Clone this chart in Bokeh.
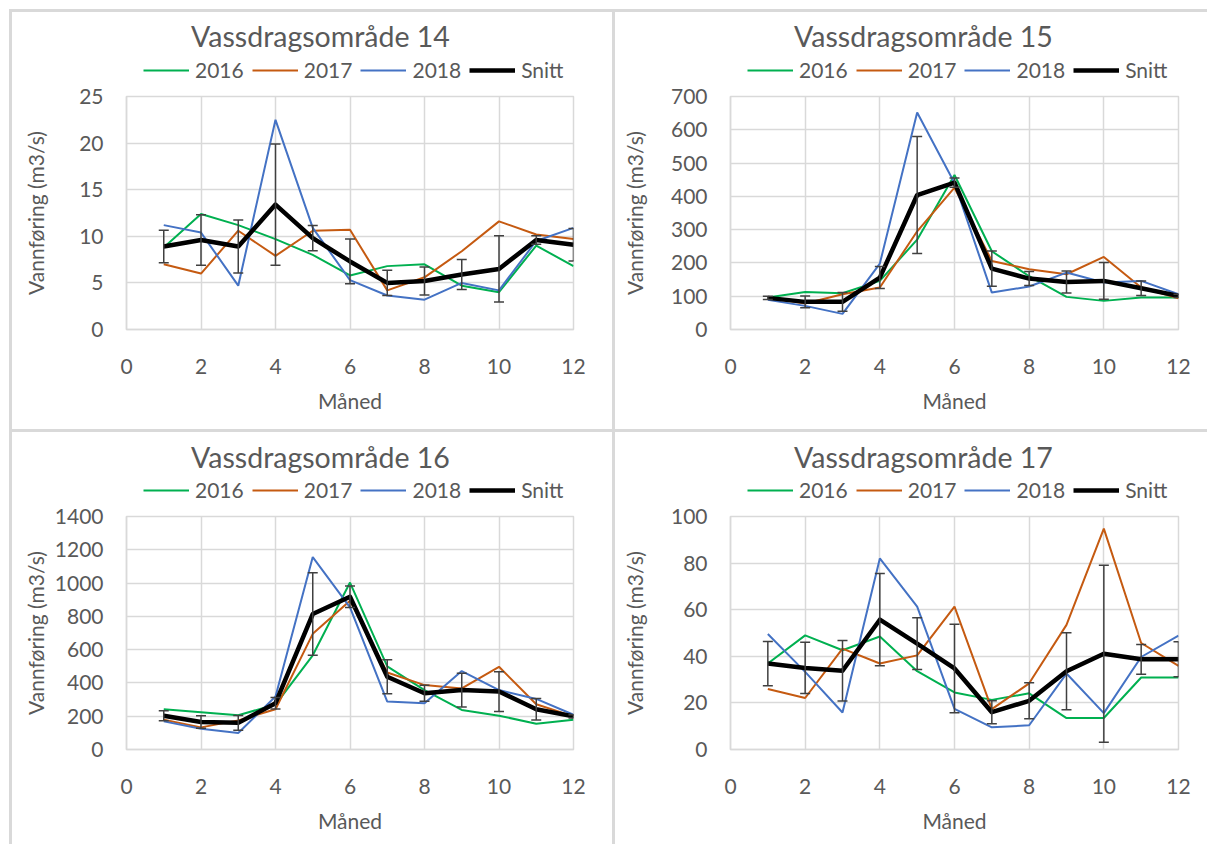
from bokeh.plotting import figure
from bokeh.models import (ColumnDataSource, Whisker, TeeHead, Legend, LegendItem,
                          FixedTicker, Range1d, Spacer, Label)
from bokeh.layouts import column, row
from bokeh.embed import file_html
from bokeh.resources import INLINE

# ---------------- data ----------------
months = [1, 2, 3, 4, 5, 6, 7, 8, 9, 10, 11, 12]
x_ticks = [0, 2, 4, 6, 8, 10, 12]
series_names = ["2016", "2017", "2018", "Snitt"]

titles = ["Vassdragsområde 14", "Vassdragsområde 15", "Vassdragsområde 16", "Vassdragsområde 17"]
y_ticks_14 = [0, 5, 10, 15, 20, 25]
y_ticks_15 = [0, 100, 200, 300, 400, 500, 600, 700]
y_ticks_16 = [0, 200, 400, 600, 800, 1000, 1200, 1400]
y_ticks_17 = [0, 20, 40, 60, 80, 100]

v14_2016 = [8.8, 12.4, 11.2, 9.7, 8.0, 5.8, 6.8, 7.0, 4.7, 4.0, 9.0, 6.8]
v14_2017 = [7.0, 6.0, 10.6, 7.9, 10.6, 10.7, 4.2, 5.6, 8.4, 11.6, 10.2, 9.7]
v14_2018 = [11.2, 10.4, 4.7, 22.5, 10.9, 5.3, 3.65, 3.2, 5.0, 4.2, 9.5, 10.9]
v14_snitt = [8.9, 9.6, 8.9, 13.4, 9.8, 7.3, 5.0, 5.2, 5.9, 6.5, 9.6, 9.1]
v14_err = [1.75, 2.7, 2.85, 6.5, 1.35, 2.4, 1.35, 1.5, 1.6, 3.55, 0.45, 1.75]

v15_2016 = [96, 113, 109, 146, 270, 464, 235, 160, 98, 86, 96, 96]
v15_2017 = [96, 78, 106, 126, 295, 426, 206, 181, 166, 218, 126, 94]
v15_2018 = [89, 71, 47, 198, 652, 440, 111, 129, 171, 141, 146, 106]
v15_snitt = [95, 83, 83, 156, 404, 441, 183, 153, 143, 146, 124, 101]
v15_err = [5, 18, 28, 33, 176, 14, 53, 21, 33, 55, 22, 5]

v16_2016 = [242, 224, 206, 270, 566, 1003, 500, 357, 238, 203, 155, 179]
v16_2017 = [179, 133, 175, 242, 695, 894, 463, 387, 367, 497, 272, 199]
v16_2018 = [169, 125, 99, 318, 1156, 854, 288, 278, 471, 357, 304, 209]
v16_snitt = [203, 165, 160, 278, 814, 918, 437, 338, 357, 348, 242, 199]
v16_err = [30, 38, 45, 35, 248, 65, 102, 48, 101, 119, 65, 10]

v17_2016 = [36.9, 49, 42.6, 48.5, 33.6, 24.5, 21.3, 24.1, 13.5, 13.5, 30.9, 30.9]
v17_2017 = [26, 22.1, 43.3, 36.9, 40.4, 61.3, 17.3, 28.4, 53.5, 94.8, 45.7, 35.9]
v17_2018 = [49.6, 33.3, 15.9, 82, 61.3, 17.4, 9.5, 10.4, 32.6, 15.6, 39.7, 48.9]
v17_snitt = [36.9, 35, 33.8, 55.7, 45.4, 34.8, 16, 20.9, 33.6, 41.1, 38.7, 38.7]
v17_err = [9.5, 11, 13, 19.8, 11.1, 19, 4.9, 7.7, 16.5, 38, 6.4, 7.5]

# ---------------- style ----------------
FONT = "Lato"
TXT = "#595959"
GRID = "#d9d9d9"
BORDER = "#d9d9d9"
ERR = "#404040"
COLORS = ["#00B050", "#C55A11", "#4472C4", "#000000"]
WIDTHS = [2, 2, 2, 4.5]
HEAD_H = 71
MAIN_TOP = 13


def make_header(title, width, series, title_x, title_y, legend_x, legend_c):
    # header strip (title + legend); its frame is aligned with the panel's frame below
    h = figure(width=width, height=HEAD_H, output_backend="svg", toolbar_location=None,
               title=None, x_range=Range1d(0, 12), y_range=Range1d(0, 1),
               x_axis_type=None, y_axis_type=None, min_border=0,
               background_fill_color="white", border_fill_color="white")
    h.outline_line_color = None
    h.add_layout(Label(x=title_x, y=HEAD_H - title_y, x_units="screen", y_units="screen",
                       text=title, text_font=FONT, text_font_size="28.5px",
                       text_color=TXT, text_align="center", text_baseline="middle"))
    handles = [h.line(months, vals, line_color=c, line_width=w, visible=False)
               for vals, c, w in zip(series, COLORS, WIDTHS)]
    legend = Legend(items=[LegendItem(label=n, renderers=[r]) for n, r in zip(series_names, handles)],
                    orientation="horizontal", location=(legend_x, HEAD_H - legend_c - 12),
                    label_text_font=FONT, label_text_font_size="21px", label_text_color=TXT,
                    glyph_width=46, glyph_height=20, label_height=20, label_standoff=6, spacing=8,
                    padding=0, margin=0, border_line_color=None, background_fill_alpha=0)
    h.add_layout(legend)
    return h


def make_panel(yticks, s16, s17, s18, snitt, err, width, height,
               left, right, top, bottom, ylab_standoff):
    p = figure(width=width, height=height, output_backend="svg", toolbar_location=None,
               title=None, x_range=Range1d(0, 12), y_range=Range1d(yticks[0], yticks[-1]),
               min_border_left=left, min_border_right=right,
               min_border_top=top, min_border_bottom=bottom,
               background_fill_color="white", border_fill_color="white")
    p.outline_line_color = GRID
    p.outline_line_width = 1.5

    p.xaxis.ticker = FixedTicker(ticks=x_ticks)
    p.yaxis.ticker = FixedTicker(ticks=yticks)
    for ax in (p.xaxis, p.yaxis):
        ax.axis_line_color = GRID
        ax.axis_line_width = 1.5
        ax.major_tick_line_color = None
        ax.minor_tick_line_color = None
        ax.major_tick_out = 0
        ax.major_tick_in = 0
        ax.minor_tick_out = 0
        ax.minor_tick_in = 0
        ax.major_label_text_font = FONT
        ax.major_label_text_font_size = "21px"
        ax.major_label_text_color = TXT
        ax.axis_label_text_font = FONT
        ax.axis_label_text_font_size = "21px"
        ax.axis_label_text_font_style = "normal"
        ax.axis_label_text_color = TXT
    p.xaxis.axis_label = "Måned"
    p.yaxis.axis_label = "Vannføring (m3/s)"
    p.xaxis.major_label_standoff = 29
    p.xaxis.axis_label_standoff = 11
    p.yaxis.major_label_standoff = 23
    p.yaxis.axis_label_standoff = ylab_standoff

    p.xgrid.ticker = FixedTicker(ticks=x_ticks)
    p.ygrid.ticker = FixedTicker(ticks=yticks)
    p.grid.grid_line_color = GRID
    p.grid.grid_line_width = 1.5

    for vals, c, w in zip([s16, s17, s18], COLORS[:3], WIDTHS[:3]):
        p.line(months, vals, line_color=c, line_width=w)

    src = ColumnDataSource(dict(
        x=months,
        upper=[s + e for s, e in zip(snitt, err)],
        lower=[s - e for s, e in zip(snitt, err)],
    ))
    wh = Whisker(source=src, base="x", upper="upper", lower="lower",
                 line_color=ERR, line_width=1.5,
                 upper_head=TeeHead(size=10, line_color=ERR, line_width=1.5),
                 lower_head=TeeHead(size=10, line_color=ERR, line_width=1.5))
    wh.level = "glyph"
    p.add_layout(wh)

    p.line(months, snitt, line_color=COLORS[3], line_width=WIDTHS[3], line_join="round")
    return p


W1, W2 = 600, 592
H1, H2 = 417, 412

h14 = make_header(titles[0], W1, [v14_2016, v14_2017, v14_2018, v14_snitt], 194, 23, 17, 58)
h15 = make_header(titles[1], W2, [v15_2016, v15_2017, v15_2018, v15_snitt], 193, 23, 17, 58)
h16 = make_header(titles[2], W1, [v16_2016, v16_2017, v16_2018, v16_snitt], 194, 24, 17, 58)
h17 = make_header(titles[3], W2, [v17_2016, v17_2017, v17_2018, v17_snitt], 193, 24, 17, 58)

p14 = make_panel(y_ticks_14, v14_2016, v14_2017, v14_2018, v14_snitt, v14_err,
                 W1, H1 - HEAD_H, 114, 39, MAIN_TOP, 100, 28)
p15 = make_panel(y_ticks_15, v15_2016, v15_2017, v15_2018, v15_snitt, v15_err,
                 W2, H1 - HEAD_H, 115, 29, MAIN_TOP, 100, 21)
p16 = make_panel(y_ticks_16, v16_2016, v16_2017, v16_2018, v16_snitt, v16_err,
                 W1, H2 - HEAD_H, 114, 39, MAIN_TOP, 95, 4)
p17 = make_panel(y_ticks_17, v17_2016, v17_2017, v17_2018, v17_snitt, v17_err,
                 W2, H2 - HEAD_H, 115, 29, MAIN_TOP, 95, 21)

GRAY = {"background-color": BORDER}
INNER_W = 3 + W1 + 3 + W2

layout = column(
    Spacer(width=9 + INNER_W, height=9),
    row(Spacer(width=9, height=3), Spacer(width=INNER_W, height=3, styles=GRAY)),
    row(Spacer(width=9, height=H1), Spacer(width=3, height=H1, styles=GRAY), column(h14, p14),
        Spacer(width=3, height=H1, styles=GRAY), column(h15, p15)),
    row(Spacer(width=9, height=3), Spacer(width=INNER_W, height=3, styles=GRAY)),
    row(Spacer(width=9, height=H2), Spacer(width=3, height=H2, styles=GRAY), column(h16, p16),
        Spacer(width=3, height=H2, styles=GRAY), column(h17, p17)),
)

open("out.html", "w").write(file_html(layout, INLINE))
